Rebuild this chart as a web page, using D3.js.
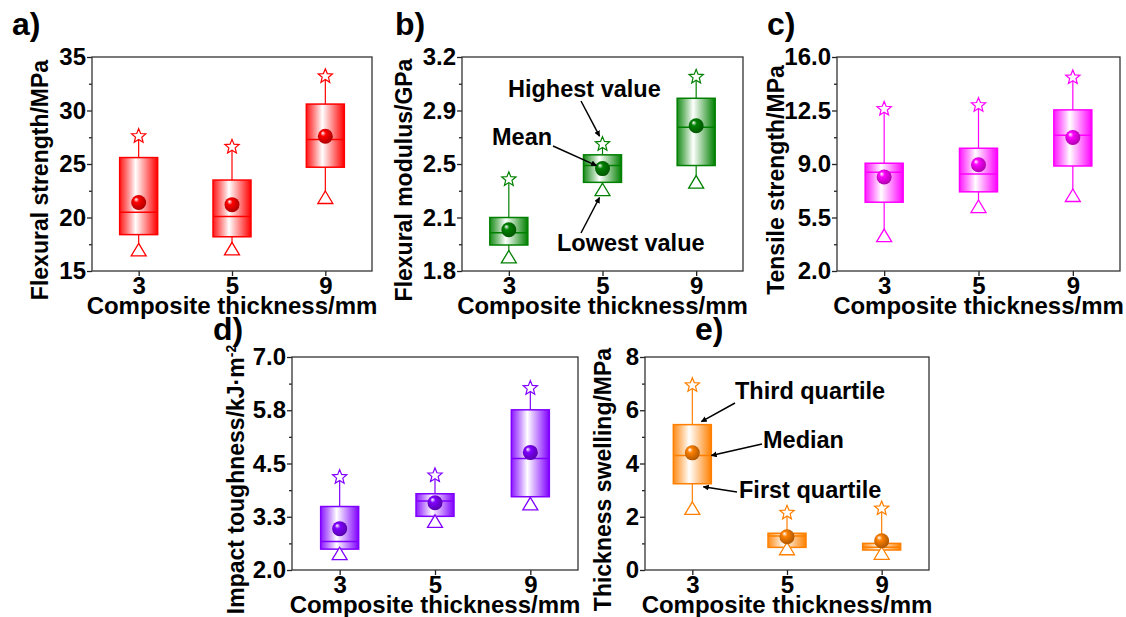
<!DOCTYPE html>
<html>
<head>
<meta charset="utf-8">
<script src="https://cdn.jsdelivr.net/npm/d3@7"></script>
<style>
  html, body { margin: 0; padding: 0; background: #fff; }
  svg { display: block; }
</style>
</head>
<body>
<div id="chart"></div>
<script>
// categories on the x axis
const thickness = ["3", "5", "9"];

// one row per thickness: [min, q1, median, q3, max, mean]
const flexStrength = [[16.8, 18.4, 20.5, 25.6, 27.6, 21.4], [16.9, 18.2, 20.1, 23.5, 26.6, 21.2], [21.7, 24.7, 27.3, 30.6, 33.2, 27.6]];
const flexModulus  = [[1.88, 1.97, 2.05, 2.15, 2.40, 2.07], [2.32, 2.38, 2.49, 2.56, 2.63, 2.47], [2.37, 2.49, 2.74, 2.93, 3.07, 2.75]];
const tensile      = [[4.2, 6.5, 8.46, 9.05, 12.6, 8.15], [6.1, 7.18, 8.34, 10.03, 12.85, 8.95], [6.82, 8.87, 10.88, 12.54, 14.66, 10.73]];
const impact       = [[2.34, 2.49, 2.67, 3.49, 4.18, 2.97], [3.1, 3.26, 3.62, 3.79, 4.22, 3.58], [3.51, 3.72, 4.62, 5.76, 6.27, 4.76]];
const swelling     = [[2.25, 3.24, 4.30, 5.46, 6.94, 4.40], [0.73, 0.85, 1.28, 1.38, 2.15, 1.25], [0.56, 0.75, 0.85, 1.00, 2.31, 1.10]];

// y ticks and their printed labels
const flexStrengthTicks = [15, 20, 25, 30, 35];
const flexStrengthLabels = ["15", "20", "25", "30", "35"];
const flexModulusTicks = [1.8, 2.15, 2.5, 2.85, 3.2];
const flexModulusLabels = ["1.8", "2.1", "2.5", "2.9", "3.2"];
const tensileTicks = [2, 5.5, 9, 12.5, 16];
const tensileLabels = ["2.0", "5.5", "9.0", "12.5", "16.0"];
const impactTicks = [2, 3.25, 4.5, 5.75, 7];
const impactLabels = ["2.0", "3.3", "4.5", "5.8", "7.0"];
const swellingTicks = [0, 2, 4, 6, 8];
const swellingLabels = ["0", "2", "4", "6", "8"];

const FONT = '"Liberation Sans", Arial, Helvetica, sans-serif';
const W = 1126, H = 617;

const svg = d3.select("#chart").append("svg")
  .attr("width", W).attr("height", H)
  .style("font-family", FONT);
const defs = svg.append("defs");

defs.append("marker")
  .attr("id", "arrow")
  .attr("viewBox", "0 0 10 10")
  .attr("refX", 9).attr("refY", 5)
  .attr("markerWidth", 6).attr("markerHeight", 6)
  .attr("markerUnits", "userSpaceOnUse")
  .attr("orient", "auto")
  .append("path").attr("d", "M0,0 L10,5 L0,10 Z").attr("fill", "#000");

function starPath(R, r) {
  const pts = [];
  for (let i = 0; i < 10; i++) {
    const a = -Math.PI / 2 + i * Math.PI / 5;
    const rad = i % 2 === 0 ? R : r;
    pts.push([Math.cos(a) * rad, Math.sin(a) * rad]);
  }
  return "M" + pts.map(p => p.join(",")).join("L") + "Z";
}
const STAR = starPath(7.5, 3.3);
const TRI = "M0,-8.3L7.5,4.2L-7.5,4.2Z";

const panels = [
  { key: "a", data: flexStrength, ticks: flexStrengthTicks, labels: flexStrengthLabels,
    color: "#ff0000", title: "Flexural strength/MPa",
    x: 92, y: 57, w: 280, h: 214, titleX: 48, label: [12, 35] },
  { key: "b", data: flexModulus, ticks: flexModulusTicks, labels: flexModulusLabels,
    color: "#008000", title: "Flexural modulus/GPa",
    x: 462, y: 57, w: 281, h: 214, titleX: 412, label: [395, 35] },
  { key: "c", data: tensile, ticks: tensileTicks, labels: tensileLabels,
    color: "#ff00ff", title: "Tensile strength/MPa",
    x: 837, y: 57, w: 283, h: 214, titleX: 784, label: [767, 35] },
  { key: "d", data: impact, ticks: impactTicks, labels: impactLabels,
    color: "#8000ff", title: "Impact toughness/kJ·m",
    x: 292, y: 357, w: 286, h: 213, titleX: 244, label: [213, 340] },
  { key: "e", data: swelling, ticks: swellingTicks, labels: swellingLabels,
    color: "#ff8000", title: "Thickness swelling/MPa",
    x: 645, y: 357, w: 284, h: 213, titleX: 611, label: [695, 340] }
];

function drawPanel(p) {
  const x = d3.scalePoint().domain(thickness).range([p.x, p.x + p.w]).padding(0.5);
  const y = d3.scaleLinear().domain([p.ticks[0], p.ticks[p.ticks.length - 1]]).range([p.y + p.h, p.y]);
  const g = svg.append("g");

  // gradients
  const lg = defs.append("linearGradient").attr("id", "box-" + p.key)
    .attr("x1", 0).attr("x2", 1).attr("y1", 0).attr("y2", 0);
  lg.append("stop").attr("offset", 0).attr("stop-color", p.color).attr("stop-opacity", 0.9);
  lg.append("stop").attr("offset", 0.42).attr("stop-color", "#fff");
  lg.append("stop").attr("offset", 1).attr("stop-color", p.color);

  const rg = defs.append("radialGradient").attr("id", "ball-" + p.key)
    .attr("cx", 0.45).attr("cy", 0.45).attr("r", 0.6).attr("fx", 0.32).attr("fy", 0.28);
  rg.append("stop").attr("offset", 0).attr("stop-color", "#fff");
  rg.append("stop").attr("offset", 0.3).attr("stop-color", p.color);
  rg.append("stop").attr("offset", 1).attr("stop-color", d3.color(p.color).darker(1.2));

  // axes
  const minor = d3.pairs(p.ticks).map(([a, b]) => (a + b) / 2);
  const yAxis = g.append("g").attr("transform", `translate(${p.x},0)`)
    .call(d3.axisLeft(y).tickValues(p.ticks).tickFormat((d, i) => p.labels[i])
      .tickSize(5).tickSizeOuter(0).tickPadding(1));
  const yMinor = g.append("g").attr("transform", `translate(${p.x},0)`)
    .call(d3.axisLeft(y).tickValues(minor).tickFormat("").tickSize(3).tickSizeOuter(0));
  const xAxis = g.append("g").attr("transform", `translate(0,${p.y + p.h})`)
    .call(d3.axisBottom(x).tickSize(5).tickSizeOuter(0).tickPadding(1));

  [yAxis, yMinor, xAxis].forEach(a => {
    a.select(".domain").remove();
    a.selectAll("line").attr("stroke", "#222").attr("stroke-width", 1.3);
    a.selectAll("text").attr("fill", "#000").attr("font-size", 24)
      .attr("font-weight", "bold").style("font-family", FONT);
  });

  g.append("rect")
    .attr("x", p.x).attr("y", p.y).attr("width", p.w).attr("height", p.h)
    .attr("fill", "none").attr("stroke", "#333").attr("stroke-width", 1.3);

  // boxes
  const bw = 38;
  const rows = p.data.map((r, i) => ({ cat: thickness[i], min: r[0], q1: r[1], med: r[2], q3: r[3], max: r[4], mean: r[5] }));
  const box = g.selectAll(".bx").data(rows).join("g").attr("class", "bx");

  box.append("line").attr("x1", d => x(d.cat)).attr("x2", d => x(d.cat))
    .attr("y1", d => y(d.max)).attr("y2", d => y(d.q3))
    .attr("stroke", p.color).attr("stroke-width", 1.2);
  box.append("line").attr("x1", d => x(d.cat)).attr("x2", d => x(d.cat))
    .attr("y1", d => y(d.q1)).attr("y2", d => y(d.min))
    .attr("stroke", p.color).attr("stroke-width", 1.2);

  box.append("rect")
    .attr("x", d => x(d.cat) - bw / 2).attr("width", bw)
    .attr("y", d => y(d.q3)).attr("height", d => y(d.q1) - y(d.q3))
    .attr("fill", `url(#box-${p.key})`)
    .attr("stroke", p.color).attr("stroke-width", 1.5);

  box.append("line")
    .attr("x1", d => x(d.cat) - bw / 2).attr("x2", d => x(d.cat) + bw / 2)
    .attr("y1", d => y(d.med)).attr("y2", d => y(d.med))
    .attr("stroke", p.color).attr("stroke-width", 1.5);

  box.append("path").attr("d", STAR)
    .attr("transform", d => `translate(${x(d.cat)},${y(d.max)})`)
    .attr("fill", "#fff").attr("stroke", p.color).attr("stroke-width", 1.2);
  box.append("path").attr("d", TRI)
    .attr("transform", d => `translate(${x(d.cat)},${y(d.min)})`)
    .attr("fill", "#fff").attr("stroke", p.color).attr("stroke-width", 1.3);

  box.append("circle")
    .attr("cx", d => x(d.cat)).attr("cy", d => y(d.mean)).attr("r", 7.5)
    .attr("fill", `url(#ball-${p.key})`);

  // titles
  const yt = svg.append("text")
    .attr("transform", `translate(${p.titleX},${p.y + p.h / 2 + 16}) rotate(-90)`)
    .attr("text-anchor", "middle").attr("font-size", 23).attr("font-weight", "bold")
    .text(p.title);
  if (p.key === "d") {
    yt.append("tspan").attr("baseline-shift", "super").attr("font-size", 14).text("-2");
  }

  svg.append("text")
    .attr("x", p.x + p.w / 2).attr("y", p.y + p.h + 43)
    .attr("text-anchor", "middle").attr("font-size", 24).attr("font-weight", "bold")
    .text("Composite thickness/mm");

  svg.append("text")
    .attr("x", p.label[0]).attr("y", p.label[1])
    .attr("font-size", 32).attr("font-weight", "bold")
    .text(p.key + ")");

  return { x, y, rows, bw };
}

const scales = panels.map(drawPanel);

function note(text, tx, ty, x1, y1, x2, y2) {
  svg.append("text").attr("x", tx).attr("y", ty)
    .attr("font-size", 23.5).attr("font-weight", "bold").text(text);
  svg.append("line")
    .attr("x1", x1).attr("y1", y1).attr("x2", x2).attr("y2", y2)
    .attr("stroke", "#000").attr("stroke-width", 1.5)
    .attr("marker-end", "url(#arrow)");
}

// panel b callouts on the 5 mm box
{
  const { x, y, rows } = scales[1];
  const r = rows[1], cx = x(r.cat);
  note("Highest value", 508, 97, 581, 101, cx - 3, y(r.max) - 8);
  note("Mean", 492, 145, 553, 146, cx - 6, y(r.mean) - 3);
  note("Lowest value", 557, 251, 581, 233, cx - 3, y(r.min) + 6);
}

// panel e callouts on the 3 mm box
{
  const { x, y, rows, bw } = scales[4];
  const r = rows[0], cx = x(r.cat);
  note("Third quartile", 735, 399, 735, 403, cx + 9, y(r.q3) - 3);
  note("Median", 763, 448, 762, 444, cx + bw / 2, y(r.med));
  note("First quartile", 739, 498, 737, 492, cx + 11, y(r.q1) + 3);
}
</script>
</body>
</html>
